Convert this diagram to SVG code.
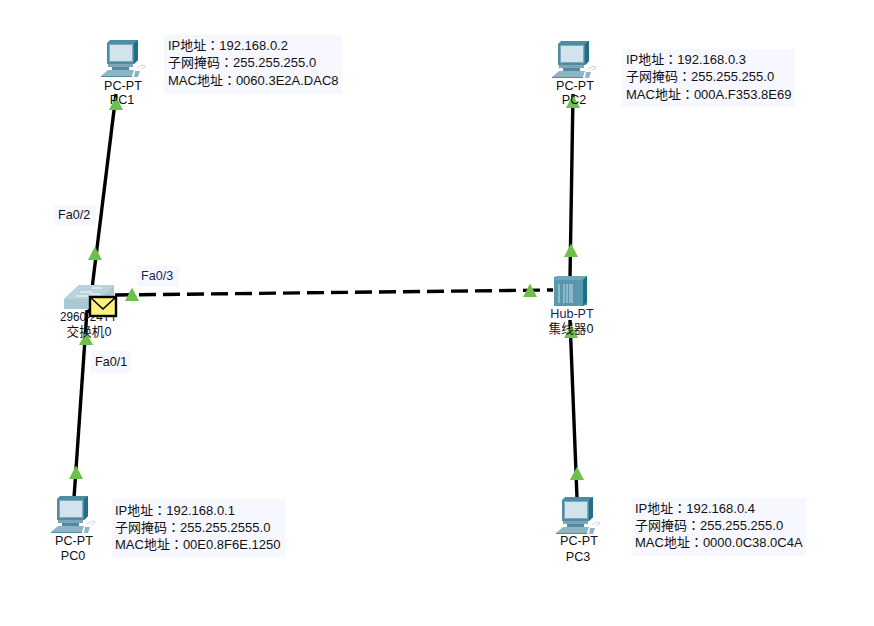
<svg xmlns="http://www.w3.org/2000/svg" width="874" height="626" viewBox="0 0 874 626">
<style>
text{font-family:"Liberation Sans","Noto Sans CJK TC",sans-serif;font-size:12.6px;fill:#111}
.c{text-anchor:middle}
.n text{font-size:13px}
.box{fill:#f7f8ff}
.link{stroke:#000;stroke-width:3.4;fill:none}
.dash{stroke-dasharray:17 7}
.blue{fill:#1c1c55}
</style>
<defs>
<polygon id="tri" points="0,-7.5 7,6 -7,6" fill="#6fbf4b"/>
<g id="pc">
<polygon points="2,3 5,0 33,0 33,20 29,24 2,24" fill="#4e8ca3"/>
<polygon points="29,3 33,0 33,20 29,24" fill="#1f7085"/>
<rect x="4.5" y="4.5" width="23" height="17" fill="#d3e3ec" stroke="#7fa9ba"/>
<rect x="3" y="24" width="25" height="3" fill="#7aa6b6"/>
<rect x="7" y="27" width="17" height="3" fill="#4e8ca3"/>
<polygon points="3,30 29,30 27,36 -4,36" fill="#8db5c4"/>
<polygon points="-4,36 27,36 27,37 -4,37" fill="#4e8ca3"/>
<polygon points="30,31 35,31 33,37 29,37" fill="#8db5c4"/>
<path d="M32,28 q4,-3 7,-3 l1,2 -4,2" fill="none" stroke="#c8d8de" stroke-width="1"/>
</g>
</defs>
<g id="connectors">
<path class="link" d="M116,94 L89,313"/>
<path class="link" d="M573,94 L570,278"/>
<path class="link" d="M87,310 L74,498"/>
<path class="link" d="M570,320 L577,498"/>
<path class="link dash" d="M115,295 L553,290"/>
<use href="#tri" x="116" y="104"/>
<use href="#tri" x="95" y="254"/>
<use href="#tri" x="86" y="339"/>
<use href="#tri" x="76" y="473"/>
<use href="#tri" x="132" y="295"/>
<use href="#tri" x="530" y="291"/>
<use href="#tri" x="571" y="251"/>
<use href="#tri" x="571" y="332"/>
<use href="#tri" x="577" y="474"/>
<use href="#tri" x="573" y="102"/>
</g>
<g id="pc1"><use href="#pc" x="105" y="40"/><text class="c" x="123" y="90">PC-PT</text><text class="c" x="122" y="104">PC1</text></g>
<g id="pc2"><use href="#pc" x="556" y="41"/><text class="c" x="575" y="90">PC-PT</text><text class="c" x="574" y="104">PC2</text></g>
<g id="pc0"><use href="#pc" x="55" y="496"/><text class="c" x="74" y="545">PC-PT</text><text class="c" x="73" y="560">PC0</text></g>
<g id="pc3"><use href="#pc" x="560" y="497"/><text class="c" x="579" y="545">PC-PT</text><text class="c" x="578" y="561">PC3</text></g>
<g id="switch0">
<polygon points="64,299 79,285 114,285 114,297 100,309 64,309" fill="#a9c8d4"/>
<polygon points="65,299 80,285 114,285 100,299" fill="#b9d3dc"/>
<path d="M80,292h12M92,288h10M76,296h12M90,294h10" stroke="#e4eef2" stroke-width="1.5"/>
<text class="c" x="88.5" y="321" textLength="57" lengthAdjust="spacingAndGlyphs">2960-24TT</text>
<text class="c" x="89" y="336">交换机0</text>
<rect x="90" y="297" width="26" height="19" fill="#fcf17d" stroke="#000" stroke-width="2.4"/>
<path d="M90,297 L103,309 L116,297" fill="none" stroke="#000" stroke-width="1.6"/>
</g>
<g id="hub0">
<polygon points="554,277 558,276 587,276 587,305 583,306 554,306" fill="#5a97ad"/>
<polygon points="554,280 558,276 587,276 583,280" fill="#6ea6ba"/>
<polygon points="583,280 587,276 587,302 583,306" fill="#137186"/>
<path d="M559,284V303M564,284V303M567,284V303M570,284V303M572,284V303" stroke="#c3dbe4" stroke-width="1"/>
<text class="c" x="572" y="318" style="fill:#1c1c55">Hub-PT</text>
<text class="c" x="571" y="333">集线器0</text>
</g>
<g id="note-pc1" class="n"><rect class="box" x="164" y="35" width="178" height="59"/><text x="168" y="50">IP地址：192.168.0.2</text><text x="168" y="67">子网掩码：255.255.255.0</text><text x="168" y="85">MAC地址：0060.3E2A.DAC8</text></g>
<g id="note-pc2" class="n"><rect class="box" x="622" y="49" width="173" height="58"/><text x="626" y="64">IP地址：192.168.0.3</text><text x="626" y="81">子网掩码：255.255.255.0</text><text x="626" y="99">MAC地址：000A.F353.8E69</text></g>
<g id="note-pc0" class="n"><rect class="box" x="112" y="499" width="173" height="58"/><text x="115" y="515">IP地址：192.168.0.1</text><text x="115" y="532">子网掩码：255.255.2555.0</text><text x="115" y="549">MAC地址：00E0.8F6E.1250</text></g>
<g id="note-pc3" class="n"><rect class="box" x="632" y="498" width="174" height="58"/><text x="635" y="513">IP地址：192.168.0.4</text><text x="635" y="530">子网掩码：255.255.255.0</text><text x="635" y="547">MAC地址：0000.0C38.0C4A</text></g>
<g id="label-fa02"><rect class="box" x="54" y="205" width="42" height="21"/><text x="58" y="219">Fa0/2</text></g>
<g id="label-fa03"><rect class="box" x="137" y="266" width="42" height="21"/><text x="141" y="280" class="blue">Fa0/3</text></g>
<g id="label-fa01"><rect class="box" x="91" y="351" width="40" height="22"/><text x="95" y="366">Fa0/1</text></g>
</svg>
